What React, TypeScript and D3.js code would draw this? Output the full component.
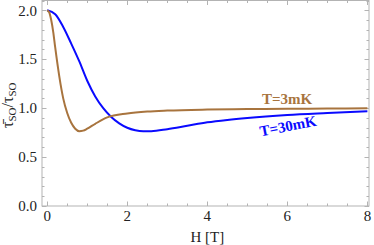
import React, { useEffect, useRef } from 'react';
import * as d3 from 'd3';

// field values (H in tesla) and the ratio
const fieldLow = [0, 0.05, 0.1, 0.15, 0.2, 0.3, 0.4, 0.5, 0.6, 0.7, 0.8, 0.9, 1.0, 1.2, 1.5, 2.0, 2.5, 3.0, 4.0, 5.0, 6.0, 7.0, 8.0];
const ratio3mK = [2.0, 1.98, 1.9, 1.78, 1.62, 1.33, 1.1, 0.95, 0.85, 0.79, 0.765, 0.77, 0.79, 0.84, 0.905, 0.945, 0.965, 0.975, 0.985, 0.99, 0.993, 0.996, 0.998];

const fieldHigh = [0, 0.2, 0.4, 0.6, 0.8, 1.0, 1.2, 1.4, 1.6, 1.8, 2.0, 2.2, 2.4, 2.6, 3.0, 3.5, 4.0, 4.5, 5.0, 6.0, 7.0, 8.0];
const ratio30mK = [2.0, 1.96, 1.83, 1.66, 1.48, 1.28, 1.12, 1.0, 0.91, 0.845, 0.8, 0.775, 0.765, 0.765, 0.785, 0.82, 0.855, 0.88, 0.9, 0.93, 0.95, 0.968];

const xTicks = [0, 2, 4, 6, 8];
const yTicks = [0, 0.5, 1, 1.5, 2];

const App: React.FC = () => {
  const svgRef = useRef<SVGSVGElement>(null);

  useEffect(() => {
    if (!svgRef.current) return;
    const svg = d3.select(svgRef.current);
    svg.selectAll('*').remove();

    const left = 42, right = 369, top = 0.5, bottom = 206;
    const x = d3.scaleLinear().domain([-0.13, 8.04]).range([left, right]);
    const y = d3.scaleLinear().domain([0, 2.1]).range([bottom, top]);
    const frameColor = '#b3b3b3';
    const font = 'Liberation Serif, DejaVu Serif, Times New Roman, serif';

    // frame
    svg.append('rect')
      .attr('x', left).attr('y', top)
      .attr('width', right - left).attr('height', bottom - top)
      .attr('fill', 'none').attr('stroke', frameColor).attr('stroke-width', 1);

    // ticks (inward) on all four sides
    const xMinor = d3.range(0, 8.01, 0.5);
    const yMinor = d3.range(0, 2.101, 0.1);
    const tickG = svg.append('g').attr('stroke', frameColor).attr('stroke-width', 1);
    xMinor.forEach(v => {
      const major = xTicks.some(t => Math.abs(t - v) < 1e-6);
      const len = major ? 4.5 : 2.5;
      const px = Math.round(x(v)) + 0.5;
      tickG.append('line').attr('x1', px).attr('x2', px).attr('y1', bottom).attr('y2', bottom - len);
      tickG.append('line').attr('x1', px).attr('x2', px).attr('y1', top).attr('y2', top + len);
    });
    yMinor.forEach(v => {
      const major = yTicks.some(t => Math.abs(t - v) < 1e-6);
      const len = major ? 4.5 : 2.5;
      const py = Math.round(y(v)) + 0.5;
      tickG.append('line').attr('x1', left).attr('x2', left + len).attr('y1', py).attr('y2', py);
      tickG.append('line').attr('x1', right).attr('x2', right - len).attr('y1', py).attr('y2', py);
    });

    // tick labels
    svg.append('g').selectAll('text').data(yTicks).enter().append('text')
      .attr('x', left - 5).attr('y', d => y(d)).attr('dy', '0.35em')
      .attr('text-anchor', 'end')
      .style('font-family', font).style('font-size', '15px').style('fill', '#222')
      .text(d => d3.format('.1f')(d));

    svg.append('g').selectAll('text').data(xTicks).enter().append('text')
      .attr('x', d => x(d)).attr('y', 221)
      .attr('text-anchor', 'middle')
      .style('font-family', font).style('font-size', '15px').style('fill', '#222')
      .text(d => String(d));

    // axis titles
    svg.append('text')
      .attr('x', x(4)).attr('y', 242)
      .attr('text-anchor', 'middle')
      .style('font-family', font).style('font-size', '15px').style('fill', '#222')
      .text('H [T]');

    const yl = svg.append('text')
      .attr('transform', `translate(13,${(top + bottom) / 2 + 2}) rotate(-90)`)
      .attr('text-anchor', 'middle')
      .style('font-family', font).style('font-size', '16px').style('fill', '#222');
    yl.append('tspan').text('\u03C4\u0304');
    yl.append('tspan').attr('dy', 3).style('font-size', '11px').text('SO');
    yl.append('tspan').attr('dy', -3).text('/\u03C4');
    yl.append('tspan').attr('dy', 3).style('font-size', '11px').text('SO');

    // curves
    const line = d3.line<[number, number]>()
      .x(d => x(d[0])).y(d => y(d[1]))
      .curve(d3.curveMonotoneX);

    svg.append('path')
      .datum(fieldHigh.map((h, i) => [h, ratio30mK[i]] as [number, number]))
      .attr('d', line).attr('fill', 'none')
      .attr('stroke', '#0a0aff').attr('stroke-width', 2);

    svg.append('path')
      .datum(fieldLow.map((h, i) => [h, ratio3mK[i]] as [number, number]))
      .attr('d', line).attr('fill', 'none')
      .attr('stroke', '#a8743e').attr('stroke-width', 2);

    // curve labels
    svg.append('text')
      .attr('x', 287).attr('y', 104)
      .attr('text-anchor', 'middle')
      .style('font-family', font).style('font-size', '15px').style('font-weight', 'bold')
      .style('fill', '#a8743e')
      .text('T=3mK');

    svg.append('text')
      .attr('transform', 'translate(289,131) rotate(-11)')
      .attr('text-anchor', 'middle')
      .style('font-family', font).style('font-size', '15px').style('font-weight', 'bold')
      .style('fill', '#0a0aff')
      .text('T=30mK');
  }, []);

  return (
    <div style={{ position: 'absolute', left: 0, top: 0, background: '#fff' }}>
      <svg ref={svgRef} width={374} height={245} style={{ display: 'block' }}></svg>
    </div>
  );
};

export default App;
